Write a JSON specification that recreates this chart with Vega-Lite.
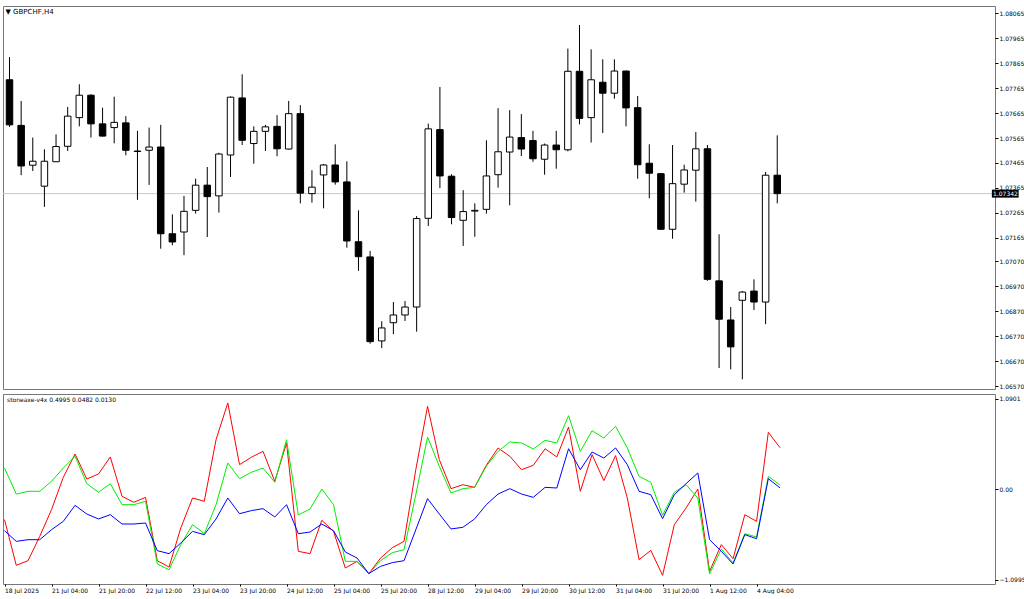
{
 "$schema": "https://vega.github.io/schema/vega-lite/v6.json",
 "background": "white",
 "padding": {"left": 2, "top": 5, "right": 0, "bottom": 0},
 "spacing": 3,
 "config": {
  "view": {"stroke": "#777777", "strokeWidth": 1},
  "font": "DejaVu Sans",
  "axis": {"labelFont": "DejaVu Sans", "labelFontSize": 6, "labelColor": "#000000", "tickColor": "#000000", "tickSize": 3, "domain": false, "grid": false, "title": null, "labelOverlap": false, "labelFlush": false, "labelBound": false},
  "axisY": {"labelOverlap": false},
  "axisQuantitative": {"labelOverlap": false},
  "title": {"font": "DejaVu Sans", "fontWeight": "normal", "color": "#000000"}
 },
 "datasets": {
  "candles": [
   {"i":0,"o":1.07799,"h":1.07890,"l":1.07610,"c":1.07618},
   {"i":1,"o":1.07616,"h":1.07714,"l":1.07416,"c":1.07453},
   {"i":2,"o":1.07456,"h":1.07567,"l":1.07433,"c":1.07472},
   {"i":3,"o":1.07372,"h":1.07520,"l":1.07289,"c":1.07472},
   {"i":4,"o":1.07470,"h":1.07580,"l":1.07469,"c":1.07531},
   {"i":5,"o":1.07532,"h":1.07690,"l":1.07513,"c":1.07653},
   {"i":6,"o":1.07647,"h":1.07781,"l":1.07612,"c":1.07737},
   {"i":7,"o":1.07737,"h":1.07741,"l":1.07567,"c":1.07622},
   {"i":8,"o":1.07622,"h":1.07687,"l":1.07571,"c":1.07573},
   {"i":9,"o":1.07607,"h":1.07731,"l":1.07544,"c":1.07628},
   {"i":10,"o":1.07626,"h":1.07653,"l":1.07496,"c":1.07516},
   {"i":11,"o":1.07511,"h":1.07594,"l":1.07317,"c":1.07513},
   {"i":12,"o":1.07516,"h":1.07607,"l":1.07377,"c":1.07529},
   {"i":13,"o":1.07529,"h":1.07618,"l":1.07121,"c":1.07181},
   {"i":14,"o":1.07181,"h":1.07259,"l":1.07135,"c":1.07148},
   {"i":15,"o":1.07188,"h":1.07333,"l":1.07095,"c":1.07271},
   {"i":16,"o":1.07275,"h":1.07402,"l":1.07262,"c":1.07376},
   {"i":17,"o":1.07376,"h":1.07449,"l":1.07168,"c":1.07330},
   {"i":18,"o":1.07333,"h":1.07506,"l":1.07266,"c":1.07501},
   {"i":19,"o":1.07497,"h":1.07732,"l":1.07409,"c":1.07729},
   {"i":20,"o":1.07726,"h":1.07821,"l":1.07537,"c":1.07556},
   {"i":21,"o":1.07543,"h":1.07612,"l":1.07462,"c":1.07592},
   {"i":22,"o":1.07592,"h":1.07618,"l":1.07513,"c":1.07610},
   {"i":23,"o":1.07612,"h":1.07657,"l":1.07492,"c":1.07522},
   {"i":24,"o":1.07521,"h":1.07714,"l":1.07519,"c":1.07663},
   {"i":25,"o":1.07663,"h":1.07697,"l":1.07303,"c":1.07344},
   {"i":26,"o":1.07342,"h":1.07436,"l":1.07306,"c":1.07368},
   {"i":27,"o":1.07417,"h":1.07461,"l":1.07283,"c":1.07457},
   {"i":28,"o":1.07457,"h":1.07540,"l":1.07378,"c":1.07389},
   {"i":29,"o":1.07389,"h":1.07472,"l":1.07125,"c":1.07152},
   {"i":30,"o":1.07149,"h":1.07275,"l":1.07032,"c":1.07089},
   {"i":31,"o":1.07088,"h":1.07112,"l":1.06740,"c":1.06748},
   {"i":32,"o":1.06751,"h":1.06830,"l":1.06722,"c":1.06803},
   {"i":33,"o":1.06824,"h":1.06907,"l":1.06778,"c":1.06855},
   {"i":34,"o":1.06855,"h":1.06911,"l":1.06831,"c":1.06887},
   {"i":35,"o":1.06887,"h":1.07252,"l":1.06788,"c":1.07242},
   {"i":36,"o":1.07243,"h":1.07623,"l":1.07212,"c":1.07602},
   {"i":37,"o":1.07599,"h":1.07770,"l":1.07364,"c":1.07413},
   {"i":38,"o":1.07412,"h":1.07420,"l":1.07219,"c":1.07246},
   {"i":39,"o":1.07235,"h":1.07356,"l":1.07132,"c":1.07270},
   {"i":40,"o":1.07272,"h":1.07303,"l":1.07169,"c":1.07275},
   {"i":41,"o":1.07279,"h":1.07556,"l":1.07262,"c":1.07413},
   {"i":42,"o":1.07418,"h":1.07685,"l":1.07366,"c":1.07510},
   {"i":43,"o":1.07509,"h":1.07677,"l":1.07295,"c":1.07569},
   {"i":44,"o":1.07567,"h":1.07661,"l":1.07493,"c":1.07521},
   {"i":45,"o":1.07555,"h":1.07594,"l":1.07470,"c":1.07482},
   {"i":46,"o":1.07480,"h":1.07543,"l":1.07418,"c":1.07537},
   {"i":47,"o":1.07537,"h":1.07594,"l":1.07442,"c":1.07518},
   {"i":48,"o":1.07518,"h":1.07924,"l":1.07512,"c":1.07833},
   {"i":49,"o":1.07833,"h":1.08019,"l":1.07620,"c":1.07644},
   {"i":50,"o":1.07647,"h":1.07921,"l":1.07547,"c":1.07799},
   {"i":51,"o":1.07789,"h":1.07881,"l":1.07585,"c":1.07745},
   {"i":52,"o":1.07745,"h":1.07881,"l":1.07723,"c":1.07834},
   {"i":53,"o":1.07834,"h":1.07836,"l":1.07612,"c":1.07686},
   {"i":54,"o":1.07687,"h":1.07734,"l":1.07402,"c":1.07458},
   {"i":55,"o":1.07464,"h":1.07540,"l":1.07323,"c":1.07424},
   {"i":56,"o":1.07422,"h":1.07425,"l":1.07196,"c":1.07199},
   {"i":57,"o":1.07199,"h":1.07537,"l":1.07161,"c":1.07382},
   {"i":58,"o":1.07380,"h":1.07458,"l":1.07346,"c":1.07437},
   {"i":59,"o":1.07436,"h":1.07589,"l":1.07310,"c":1.07522},
   {"i":60,"o":1.07522,"h":1.07537,"l":1.06992,"c":1.06998},
   {"i":61,"o":1.06992,"h":1.07179,"l":1.06642,"c":1.06838},
   {"i":62,"o":1.06835,"h":1.06887,"l":1.06637,"c":1.06727},
   {"i":63,"o":1.06914,"h":1.06951,"l":1.06597,"c":1.06947},
   {"i":64,"o":1.06951,"h":1.06998,"l":1.06875,"c":1.06907},
   {"i":65,"o":1.06907,"h":1.07429,"l":1.06818,"c":1.07416},
   {"i":66,"o":1.07416,"h":1.07576,"l":1.07303,"c":1.07342}
  ],
  "ind": [
   {"i":0,"red":-0.371,"green":0.254,"blue":-0.505},
   {"i":1,"red":-0.924,"green":-0.061,"blue":-0.634},
   {"i":2,"red":-0.868,"green":-0.028,"blue":-0.614},
   {"i":3,"red":-0.573,"green":-0.028,"blue":-0.614},
   {"i":4,"red":-0.250,"green":0.093,"blue":-0.493},
   {"i":5,"red":0.141,"green":0.254,"blue":-0.392},
   {"i":6,"red":0.424,"green":0.396,"blue":-0.198},
   {"i":7,"red":0.121,"green":0.065,"blue":-0.303},
   {"i":8,"red":0.182,"green":-0.040,"blue":-0.363},
   {"i":9,"red":0.388,"green":0.065,"blue":-0.311},
   {"i":10,"red":-0.089,"green":-0.190,"blue":-0.424},
   {"i":11,"red":-0.161,"green":-0.190,"blue":-0.424},
   {"i":12,"red":-0.101,"green":-0.149,"blue":-0.412},
   {"i":13,"red":-0.868,"green":-0.908,"blue":-0.747},
   {"i":14,"red":-0.945,"green":-0.977,"blue":-0.783},
   {"i":15,"red":-0.472,"green":-0.674,"blue":-0.654},
   {"i":16,"red":-0.109,"green":-0.432,"blue":-0.513},
   {"i":17,"red":-0.149,"green":-0.541,"blue":-0.553},
   {"i":18,"red":0.597,"green":-0.190,"blue":-0.363},
   {"i":19,"red":1.042,"green":0.315,"blue":-0.109},
   {"i":20,"red":0.295,"green":0.125,"blue":-0.299},
   {"i":21,"red":0.384,"green":0.202,"blue":-0.262},
   {"i":22,"red":0.456,"green":0.254,"blue":-0.238},
   {"i":23,"red":0.093,"green":0.081,"blue":-0.339},
   {"i":24,"red":0.557,"green":0.597,"blue":-0.190},
   {"i":25,"red":-0.755,"green":-0.315,"blue":-0.541},
   {"i":26,"red":-0.783,"green":-0.242,"blue":-0.521},
   {"i":27,"red":-0.379,"green":0.000,"blue":-0.424},
   {"i":28,"red":-0.513,"green":-0.190,"blue":-0.505},
   {"i":29,"red":-0.957,"green":-0.876,"blue":-0.763},
   {"i":30,"red":-0.876,"green":-0.876,"blue":-0.836},
   {"i":31,"red":-1.025,"green":-1.025,"blue":-1.025},
   {"i":32,"red":-0.836,"green":-0.868,"blue":-0.937},
   {"i":33,"red":-0.711,"green":-0.771,"blue":-0.892},
   {"i":34,"red":-0.634,"green":-0.735,"blue":-0.868},
   {"i":35,"red":0.234,"green":-0.069,"blue":-0.493},
   {"i":36,"red":1.001,"green":0.630,"blue":-0.117},
   {"i":37,"red":0.355,"green":0.275,"blue":-0.303},
   {"i":38,"red":0.004,"green":-0.048,"blue":-0.484},
   {"i":39,"red":0.052,"green":0.004,"blue":-0.464},
   {"i":40,"red":0.020,"green":0.020,"blue":-0.363},
   {"i":41,"red":0.287,"green":0.275,"blue":-0.190},
   {"i":42,"red":0.497,"green":0.456,"blue":-0.061},
   {"i":43,"red":0.396,"green":0.569,"blue":0.004},
   {"i":44,"red":0.234,"green":0.557,"blue":-0.061},
   {"i":45,"red":0.287,"green":0.484,"blue":-0.101},
   {"i":46,"red":0.488,"green":0.589,"blue":0.020},
   {"i":47,"red":0.388,"green":0.557,"blue":0.012},
   {"i":48,"red":0.751,"green":0.888,"blue":0.488},
   {"i":49,"red":-0.028,"green":0.456,"blue":0.234},
   {"i":50,"red":0.416,"green":0.706,"blue":0.448},
   {"i":51,"red":0.101,"green":0.618,"blue":0.375},
   {"i":52,"red":0.404,"green":0.759,"blue":0.497},
   {"i":53,"red":-0.109,"green":0.497,"blue":0.295},
   {"i":54,"red":-0.856,"green":0.153,"blue":-0.028},
   {"i":55,"red":-0.743,"green":0.081,"blue":-0.069},
   {"i":56,"red":-1.046,"green":-0.319,"blue":-0.359},
   {"i":57,"red":-0.432,"green":-0.040,"blue":-0.069},
   {"i":58,"red":-0.230,"green":0.052,"blue":0.065},
   {"i":59,"red":0.000,"green":-0.109,"blue":0.194},
   {"i":60,"red":-0.997,"green":-1.029,"blue":-0.614},
   {"i":61,"red":-0.674,"green":-0.727,"blue":-0.755},
   {"i":62,"red":-0.844,"green":-0.896,"blue":-0.908},
   {"i":63,"red":-0.311,"green":-0.541,"blue":-0.553},
   {"i":64,"red":-0.392,"green":-0.581,"blue":-0.602},
   {"i":65,"red":0.686,"green":0.153,"blue":0.125},
   {"i":66,"red":0.4995,"green":0.0482,"blue":0.0130}
  ],
  "last": [{"p": 1.07342}]
 },
 "vconcat": [
  {
   "width": 992,
   "height": 383,
   "title": {"text": "▼ GBPCHF,H4", "anchor": "start", "fontSize": 7, "offset": -9, "dx": 3},
   "layer": [
    {
     "data": {"name": "last"},
     "mark": {"type": "rule", "color": "#c8c8c8", "strokeWidth": 1},
     "encoding": {
      "y": {"field": "p", "type": "quantitative", "scale": {"domain": [1.06558, 1.08095], "zero": false, "nice": false},
       "axis": {"orient": "right", "values": [1.08065,1.07965,1.07865,1.07765,1.07665,1.07565,1.07465,1.07365,1.07265,1.07165,1.0707,1.0697,1.0687,1.0677,1.0667,1.0657], "format": ".5f", "labelPadding": 1, "labelOverlap": false, "labelFontSize": 6}}
     }
    },
    {
     "data": {"name": "candles"},
     "mark": {"type": "rule", "color": "#000000", "strokeWidth": 1, "clip": true},
     "encoding": {
      "x": {"field": "i", "type": "quantitative", "scale": {"domain": [-0.13, 84.29], "zero": false, "nice": false}, "axis": null},
      "y": {"field": "l", "type": "quantitative", "scale": {"domain": [1.06558, 1.08095], "zero": false, "nice": false},
       "axis": {"orient": "right", "values": [1.08065,1.07965,1.07865,1.07765,1.07665,1.07565,1.07465,1.07365,1.07265,1.07165,1.0707,1.0697,1.0687,1.0677,1.0667,1.0657], "format": ".5f", "labelPadding": 1, "labelOverlap": false, "labelFontSize": 6}},
      "y2": {"field": "h"}
     }
    },
    {
     "data": {"name": "candles"},
     "mark": {"type": "bar", "size": 6.5, "stroke": "#000000", "strokeWidth": 1, "clip": true},
     "encoding": {
      "x": {"field": "i", "type": "quantitative", "scale": {"domain": [-0.13, 84.29], "zero": false, "nice": false}, "axis": null},
      "y": {"field": "o", "type": "quantitative", "scale": {"domain": [1.06558, 1.08095], "zero": false, "nice": false},
       "axis": {"orient": "right", "values": [1.08065,1.07965,1.07865,1.07765,1.07665,1.07565,1.07465,1.07365,1.07265,1.07165,1.0707,1.0697,1.0687,1.0677,1.0667,1.0657], "format": ".5f", "labelPadding": 1, "labelOverlap": false, "labelFontSize": 6}},
      "y2": {"field": "c"},
      "fill": {"condition": {"test": "datum.c > datum.o", "value": "#ffffff"}, "value": "#000000"}
     }
    },
    {
     "data": {"name": "last"},
     "mark": {"type": "rule", "color": "#000000", "strokeWidth": 8, "clip": false},
     "encoding": {
      "x": {"datum": 84.45, "type": "quantitative"},
      "x2": {"datum": 86.75},
      "y": {"field": "p", "type": "quantitative",
       "axis": {"orient": "right", "values": [1.08065,1.07965,1.07865,1.07765,1.07665,1.07565,1.07465,1.07365,1.07265,1.07165,1.0707,1.0697,1.0687,1.0677,1.0667,1.0657], "format": ".5f", "labelPadding": 1, "labelOverlap": false, "labelFontSize": 6}}
     }
    },
    {
     "data": {"name": "last"},
     "mark": {"type": "text", "color": "#ffffff", "align": "left", "baseline": "middle", "fontSize": 6, "clip": false},
     "encoding": {
      "x": {"datum": 84.55, "type": "quantitative"},
      "y": {"field": "p", "type": "quantitative",
       "axis": {"orient": "right", "values": [1.08065,1.07965,1.07865,1.07765,1.07665,1.07565,1.07465,1.07365,1.07265,1.07165,1.0707,1.0697,1.0687,1.0677,1.0667,1.0657], "format": ".5f", "labelPadding": 1, "labelOverlap": false, "labelFontSize": 6}},
      "text": {"field": "p", "type": "quantitative", "format": ".5f"}
     }
    }
   ]
  },
  {
   "width": 992,
   "height": 190,
   "title": {"text": "stoneaxe-v4x 0.4995 0.0482 0.0130", "anchor": "start", "fontSize": 6, "offset": -9, "dx": 4},
   "data": {"name": "ind"},
   "encoding": {
    "x": {"field": "i", "type": "quantitative", "scale": {"domain": [-0.13, 84.29], "zero": false, "nice": false},
     "axis": {"orient": "bottom", "values": [0,4,8,12,16,20,24,28,32,36,40,44,48,52,56,60,64], "labelAlign": "left", "labelPadding": 1, "tickSize": 2, "labelOverlap": false,
      "labelExpr": "['18 Jul 2025','21 Jul 04:00','21 Jul 20:00','22 Jul 12:00','23 Jul 04:00','23 Jul 20:00','24 Jul 12:00','25 Jul 04:00','25 Jul 20:00','28 Jul 12:00','29 Jul 04:00','29 Jul 20:00','30 Jul 12:00','31 Jul 04:00','31 Jul 20:00','1 Aug 12:00','4 Aug 04:00'][round(datum.value/4)]"}}
   },
   "layer": [
    {
     "mark": {"type": "line", "color": "#ff0000", "strokeWidth": 1, "clip": true},
     "encoding": {
      "y": {"field": "red", "type": "quantitative", "scale": {"domain": [-1.1505, 1.1505], "zero": false, "nice": false},
       "axis": {"orient": "right", "values": [1.0901, 0, -1.0995], "labelPadding": 1, "labelOverlap": false, "labelExpr": "datum.value == 0 ? '0.00' : format(datum.value, '.4f')"}}
     }
    },
    {
     "mark": {"type": "line", "color": "#00ee00", "strokeWidth": 1, "clip": true},
     "encoding": {"y": {"field": "green", "type": "quantitative"}}
    },
    {
     "mark": {"type": "line", "color": "#0000ff", "strokeWidth": 1, "clip": true},
     "encoding": {"y": {"field": "blue", "type": "quantitative"}}
    }
   ]
  }
 ]
}
